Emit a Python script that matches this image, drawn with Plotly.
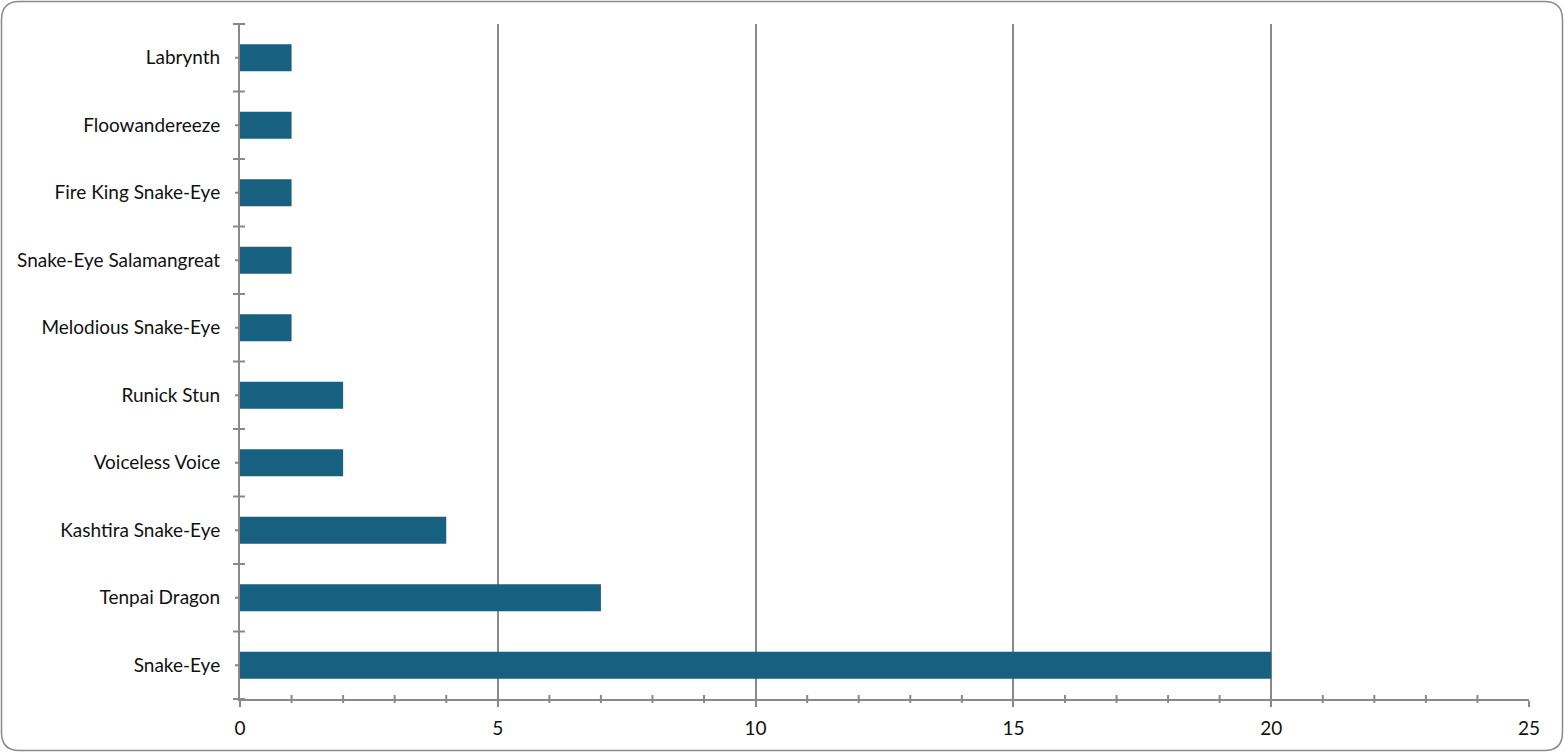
import plotly.graph_objects as go

categories = ["Snake-Eye", "Tenpai Dragon", "Kashtira Snake-Eye", "Voiceless Voice",
              "Runick Stun", "Melodious Snake-Eye", "Snake-Eye Salamangreat",
              "Fire King Snake-Eye", "Floowandereeze", "Labrynth"]
values = [20, 7, 4, 2, 2, 1, 1, 1, 1, 1]
x_ticks = [0, 5, 10, 15, 20, 25]

GRAY = "#898989"
BAR = "#17607F"
FONT = "Lato, 'Open Sans', sans-serif"

fig = go.Figure(go.Bar(
    y=categories, x=values, orientation="h",
    marker=dict(color=BAR, line=dict(width=0)),
    width=0.4,
))

ml, mr, mt, mb = 240, 35, 24, 53
pw, ph = 1564 - ml - mr, 752 - mt - mb


def px_to_paper(px, py):
    return ((px - ml) / pw, (752 - mb - py) / ph)


shapes = []
# rounded outer border (pixel path converted to paper coords)
W, H, r = 1562.5, 750.5, 18
x0, y0 = 1.5, 1.5
segs = [("M", [(x0 + r, y0)]), ("L", [(W - r, y0)]), ("Q", [(W, y0), (W, y0 + r)]),
        ("L", [(W, H - r)]), ("Q", [(W, H), (W - r, H)]), ("L", [(x0 + r, H)]),
        ("Q", [(x0, H), (x0, H - r)]), ("L", [(x0, y0 + r)]), ("Q", [(x0, y0), (x0 + r, y0)])]
res = []
for cmd, pts in segs:
    res.append(cmd)
    for px, py in pts:
        a, b = px_to_paper(px, py)
        res.append(f"{a:.6f},{b:.6f}")
res.append("Z")
shapes.append(dict(type="path", xref="paper", yref="paper", path=" ".join(res),
                   line=dict(color=GRAY, width=1.5), layer="below"))

n = len(categories)
# y-axis boundary ticks (crossing the axis)
for k in range(n + 1):
    yb = k / n
    shapes.append(dict(type="line", xref="paper", yref="paper",
                       x0=-7 / pw, x1=5 / pw, y0=yb, y1=yb,
                       line=dict(color=GRAY, width=2)))
# y-axis small ticks at category centres
for k in range(n):
    yc = (k + 0.5) / n
    shapes.append(dict(type="line", xref="paper", yref="paper",
                       x0=-5 / pw, x1=0, y0=yc, y1=yc,
                       line=dict(color=GRAY, width=2)))
# x-axis minor ticks (crossing the axis)
for v in range(0, 26):
    if v % 5 == 0:
        continue
    shapes.append(dict(type="line", xref="x", yref="paper",
                       x0=v, x1=v, y0=-4 / ph, y1=4 / ph,
                       line=dict(color=GRAY, width=2)))

fig.update_layout(
    width=1564, height=752,
    margin=dict(l=ml, r=mr, t=mt, b=mb),
    paper_bgcolor="white", plot_bgcolor="white",
    showlegend=False,
    bargap=0.6,
    font=dict(family=FONT, size=19, color="#111111"),
    shapes=shapes,
    xaxis=dict(range=[0, 25], tickvals=x_ticks, ticktext=[str(v) for v in x_ticks],
               showgrid=True, gridcolor=GRAY, gridwidth=2,
               showline=True, linecolor=GRAY, linewidth=2,
               ticks="outside", ticklen=6, tickcolor=GRAY, tickwidth=2,
               zeroline=False, fixedrange=True, ticklabelstandoff=5),
    yaxis=dict(categoryorder="array", categoryarray=categories,
               showline=True, linecolor=GRAY, linewidth=2,
               ticks="", showgrid=False, zeroline=False,
               ticklabelstandoff=14, fixedrange=True),
)

fig.write_html("out.html", config={"displayModeBar": False},
               post_script="document.body.style.margin='0';document.body.style.overflow='hidden';")
